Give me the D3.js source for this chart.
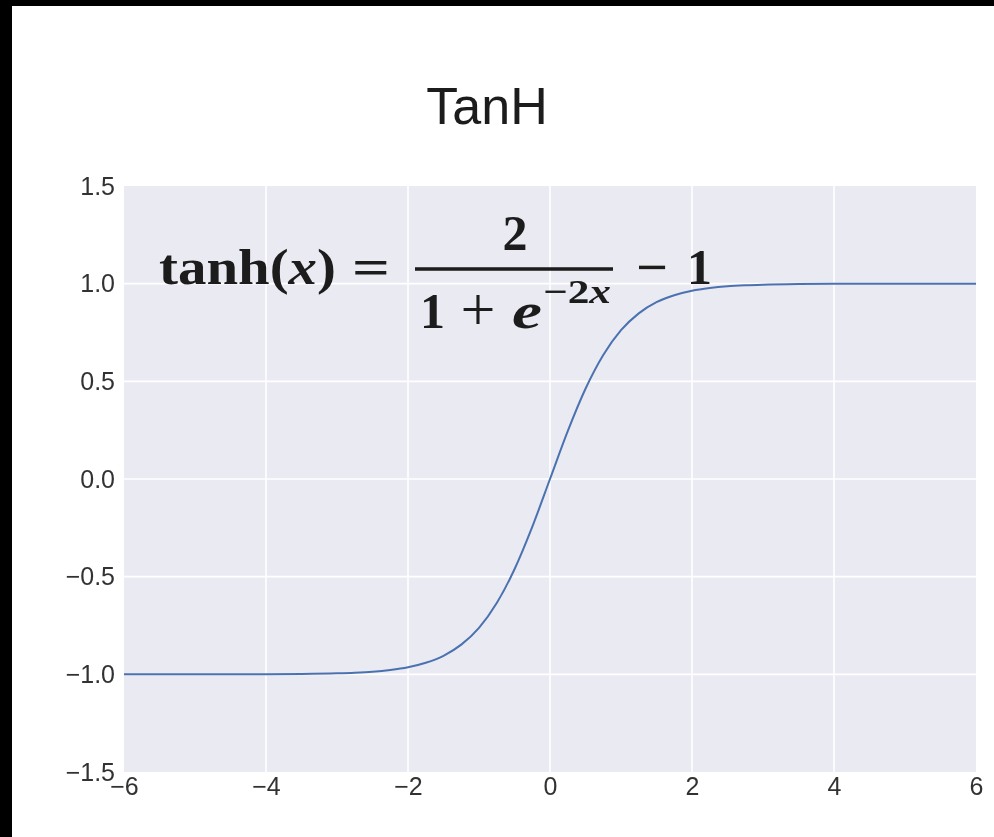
<!DOCTYPE html>
<html>
<head>
<meta charset="utf-8">
<script src="https://cdn.jsdelivr.net/npm/d3@7"></script>
<style>
  html, body { margin: 0; padding: 0; background: #ffffff; }
  svg { display: block; }
</style>
</head>
<body>
<script>
// Hyperbolic tangent curve, sampled points
const xValues = [-6, -5, -4, -3.5, -3, -2.75, -2.5, -2.25, -2, -1.75, -1.5, -1.25, -1, -0.75, -0.5, -0.25,
                 0, 0.25, 0.5, 0.75, 1, 1.25, 1.5, 1.75, 2, 2.25, 2.5, 2.75, 3, 3.5, 4, 5, 6];
const yValues = [-1.000, -1.000, -0.999, -0.998, -0.995, -0.992, -0.987, -0.978, -0.964, -0.941, -0.905, -0.848, -0.762, -0.635, -0.462, -0.245,
                 0.000, 0.245, 0.462, 0.635, 0.762, 0.848, 0.905, 0.941, 0.964, 0.978, 0.987, 0.992, 0.995, 0.998, 0.999, 1.000, 1.000];

const xTicks = [-6, -4, -2, 0, 2, 4, 6];
const yTicks = [-1.5, -1.0, -0.5, 0.0, 0.5, 1.0, 1.5];
const titleText = "TanH";

const W = 994, H = 837;
const margin = { left: 124, right: 18, top: 186, bottom: 65 };

const svg = d3.select("body").append("svg")
  .attr("width", W).attr("height", H);

const defs = svg.append("defs");
defs.append("filter").attr("id", "soft")
  .append("feGaussianBlur").attr("stdDeviation", 0.6);

const root = svg.append("g").attr("filter", "url(#soft)");

// black edge strips along the top and left
root.append("rect").attr("x", 0).attr("y", 0).attr("width", W).attr("height", 6).attr("fill", "#000");
root.append("rect").attr("x", 0).attr("y", 0).attr("width", 12).attr("height", H).attr("fill", "#000");

const x = d3.scaleLinear().domain([-6, 6]).range([margin.left, W - margin.right]);
const y = d3.scaleLinear().domain([-1.5, 1.5]).range([H - margin.bottom, margin.top]);

// axes background
root.append("rect")
  .attr("x", x(-6)).attr("y", y(1.5))
  .attr("width", x(6) - x(-6)).attr("height", y(-1.5) - y(1.5))
  .attr("fill", "#EAEAF2");

// grid
const grid = root.append("g");
grid.selectAll("line.v").data(xTicks.slice(1, -1)).join("line")
  .attr("x1", d => x(d)).attr("x2", d => x(d))
  .attr("y1", y(1.5)).attr("y2", y(-1.5))
  .attr("stroke", "#fff").attr("stroke-width", 1.6);
grid.selectAll("line.h").data(yTicks.slice(1, -1)).join("line")
  .attr("x1", x(-6)).attr("x2", x(6))
  .attr("y1", d => y(d)).attr("y2", d => y(d))
  .attr("stroke", "#fff").attr("stroke-width", 1.6);

// tick labels via d3 axes (no domain line, no tick marks)
const fmtY = d => d3.format(".1f")(d).replace("-", "\u2212");
const fmtX = d => d3.format("d")(d).replace("-", "\u2212");

const xAxis = root.append("g")
  .attr("transform", `translate(0,${y(-1.5)})`)
  .call(d3.axisBottom(x).tickValues(xTicks).tickFormat(fmtX).tickSize(0).tickPadding(5));
const yAxis = root.append("g")
  .attr("transform", `translate(${x(-6)},0)`)
  .call(d3.axisLeft(y).tickValues(yTicks).tickFormat(fmtY).tickSize(0).tickPadding(9));
[xAxis, yAxis].forEach(a => {
  a.select(".domain").remove();
  a.selectAll("text")
    .attr("font-family", "Liberation Sans, Arial, sans-serif")
    .attr("font-size", 25)
    .attr("fill", "#333");
});

// curve
const pts = xValues.map((v, i) => [v, yValues[i]]);
root.append("path")
  .datum(pts)
  .attr("fill", "none")
  .attr("stroke", "#4c72b0")
  .attr("stroke-width", 2)
  .attr("d", d3.line().x(d => x(d[0])).y(d => y(d[1])).curve(d3.curveMonotoneX));

// title
root.append("text")
  .attr("x", 487).attr("y", 124)
  .attr("text-anchor", "middle")
  .attr("font-family", "Liberation Sans, Arial, sans-serif")
  .attr("font-size", 52)
  .attr("fill", "#1a1a1a")
  .text(titleText);

// formula: tanh(x) = 2 / (1 + e^{-2x}) - 1
const f = root.append("g")
  .attr("font-family", "Liberation Serif, Times New Roman, serif")
  .attr("font-weight", "bold")
  .attr("fill", "#1a1a1a");

const lhs = f.append("text").attr("x", 159).attr("y", 284).attr("font-size", 50)
  .attr("textLength", 177).attr("lengthAdjust", "spacingAndGlyphs");
lhs.append("tspan").text("tanh(");
lhs.append("tspan").attr("font-style", "italic").text("x");
lhs.append("tspan").text(")");
f.append("text").attr("x", 352).attr("y", 284).attr("font-size", 50)
  .attr("textLength", 38).attr("lengthAdjust", "spacingAndGlyphs").text("=");

f.append("line")
  .attr("x1", 415).attr("x2", 613).attr("y1", 269).attr("y2", 269)
  .attr("stroke", "#1a1a1a").attr("stroke-width", 3.5);

f.append("text").attr("x", 515).attr("y", 250).attr("text-anchor", "middle")
  .attr("font-size", 50).text("2");

f.append("text").attr("x", 420).attr("y", 328).attr("font-size", 50).text("1");
f.append("text").attr("x", 478).attr("y", 330).attr("font-size", 62).attr("font-weight", "normal")
  .attr("text-anchor", "middle").text("+");
f.append("text").attr("x", 512).attr("y", 328).attr("font-size", 50).attr("font-style", "italic")
  .attr("textLength", 30).attr("lengthAdjust", "spacingAndGlyphs").text("e");
const sup = f.append("text").attr("x", 543).attr("y", 303).attr("font-size", 34)
  .attr("textLength", 68).attr("lengthAdjust", "spacingAndGlyphs");
sup.append("tspan").text("\u2212");
sup.append("tspan").text("2");
sup.append("tspan").attr("font-style", "italic").text("x");

f.append("text").attr("x", 636).attr("y", 284).attr("font-size", 50)
  .attr("textLength", 32).attr("lengthAdjust", "spacingAndGlyphs").text("\u2212");
f.append("text").attr("x", 687).attr("y", 284).attr("font-size", 50).text("1");
</script>
</body>
</html>
